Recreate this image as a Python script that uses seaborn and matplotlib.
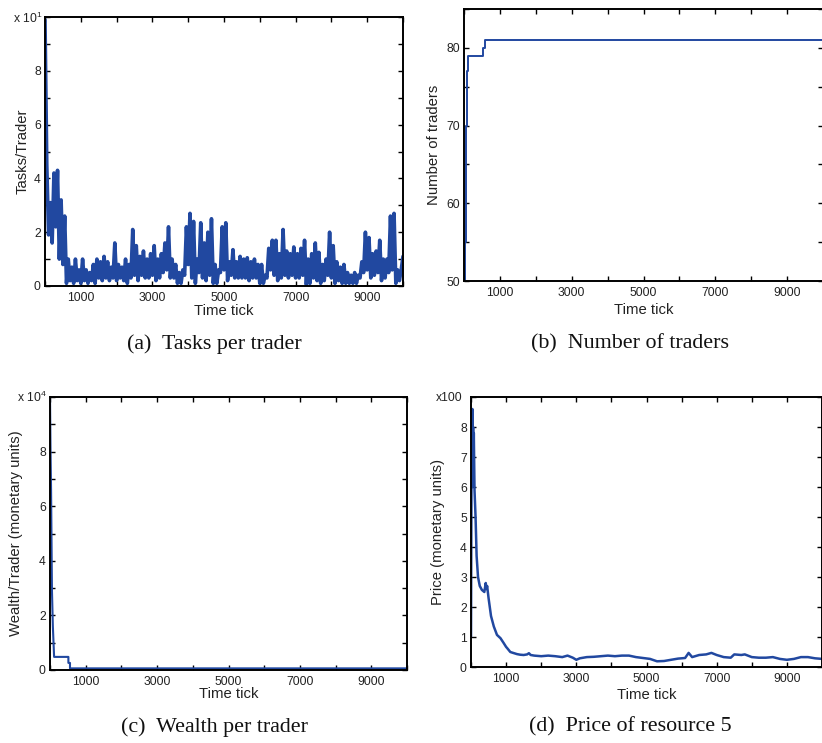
import numpy as np
import pandas as pd
import seaborn as sns
import matplotlib
matplotlib.use("Agg")
import matplotlib.pyplot as plt
from matplotlib.ticker import FixedLocator

# ---------------------------------------------------------------- data
# (a) tasks per trader, sampled every 50 ticks (plotted in units of 10)
tasks_tick = np.arange(0, 10001, 50)
tasks = [
    9.9, 4.5, 1.9, 3.1, 1.6, 4.2, 2.2, 4.3, 1.0, 3.2,
    0.8, 2.6, 0.1, 1.0, 0.2, 0.7, 0.1, 1.0, 0.2, 0.6,
    0.1, 1.0, 0.2, 0.6, 0.1, 0.5, 0.2, 0.8, 0.1, 1.0,
    0.3, 0.9, 0.2, 1.1, 0.3, 0.9, 0.2, 0.7, 0.3, 1.6,
    0.2, 0.8, 0.3, 0.7, 0.2, 1.0, 0.1, 0.8, 0.3, 2.1,
    0.4, 1.5, 0.2, 1.1, 0.4, 1.3, 0.3, 1.0, 0.3, 1.2,
    0.4, 1.5, 0.2, 1.0, 0.3, 1.2, 0.5, 1.6, 0.6, 2.2,
    0.3, 1.0, 0.3, 0.8, 0.1, 0.5, 0.1, 0.6, 0.4, 2.2,
    0.8, 2.7, 0.3, 2.4, 0.1, 1.0, 0.5, 2.35, 0.3, 1.6,
    0.2, 2.0, 0.4, 2.5, 0.1, 0.8, 0.1, 0.6, 0.5, 2.2,
    0.6, 2.35, 0.2, 0.9, 0.4, 1.35, 0.3, 0.9, 0.3, 1.1,
    0.3, 1.0, 0.3, 1.05, 0.2, 0.9, 0.3, 1.0, 0.3, 0.8,
    0.1, 0.8, 0.1, 0.4, 0.3, 1.4, 0.6, 1.7, 0.4, 1.7,
    0.2, 1.2, 0.3, 2.1, 0.4, 1.3, 0.3, 1.2, 0.4, 1.45,
    0.3, 1.2, 0.3, 1.4, 0.4, 1.7, 0.05, 1.0, 0.1, 1.2,
    0.3, 1.6, 0.2, 1.25, 0.1, 0.8, 0.2, 1.0, 0.4, 2.0,
    0.3, 1.5, 0.1, 0.9, 0.2, 0.7, 0.1, 0.8, 0.1, 0.5,
    0.1, 0.4, 0.1, 0.5, 0.1, 0.4, 0.3, 0.9, 0.5, 2.0,
    0.6, 1.8, 0.3, 1.2, 0.4, 1.3, 0.5, 1.7, 0.2, 1.0,
    0.3, 1.0, 0.5, 2.6, 0.6, 2.7, 0.1, 0.6, 0.2, 0.6,
    1.1,
]

# (b) number of traders: tick at which each count is reached
traders_tick = [0, 40, 50, 55, 60, 70, 80, 90, 100, 120, 530, 580, 10000]
traders = [50, 55, 62, 67, 70, 73, 75, 77, 78, 79, 80, 81, 81]

# (c) wealth per trader (units of 10^4)
wealth_tick = [0, 15, 30, 55, 80, 115, 515, 515, 560, 560, 10000]
wealth = [10.0, 8.0, 6.6, 2.9, 1.6, 0.48, 0.48, 0.26, 0.26, 0.06, 0.06]

# (d) price of resource 5 (units of 100)
price_tick = [0, 10, 20, 30, 40, 50, 60, 70, 80, 100,
              130, 160, 200, 250, 310, 380, 420, 440, 460, 500,
              570, 650, 740, 840, 930, 1000, 1030, 1120, 1200, 1310,
              1400, 1500, 1600, 1650, 1700, 1800, 2000, 2200, 2400, 2600,
              2750, 2900, 3000, 3100, 3300, 3500, 3700, 3900, 4100, 4300,
              4500, 4700, 4900, 5100, 5300, 5500, 5700, 5900, 6100, 6200,
              6300, 6500, 6700, 6850, 7000, 7200, 7400, 7500, 7700, 7800,
              8000, 8200, 8400, 8600, 8800, 9000, 9200, 9400, 9600, 9800,
              10000]
price = [1.0, 5.0, 8.1, 6.0, 8.6, 6.2, 8.0, 6.5, 7.8, 5.9,
         5.0, 3.7, 3.0, 2.7, 2.57, 2.5, 2.8, 2.6, 2.7, 2.3,
         1.7, 1.35, 1.07, 0.96, 0.8, 0.67, 0.63, 0.5, 0.47, 0.43,
         0.41, 0.4, 0.42, 0.46, 0.4, 0.38, 0.36, 0.38, 0.36, 0.33,
         0.38, 0.31, 0.24, 0.29, 0.33, 0.34, 0.36, 0.38, 0.36, 0.38,
         0.38, 0.33, 0.30, 0.27, 0.19, 0.20, 0.24, 0.28, 0.30, 0.47,
         0.33, 0.40, 0.42, 0.47, 0.40, 0.33, 0.31, 0.42, 0.40, 0.42,
         0.33, 0.31, 0.31, 0.33, 0.27, 0.24, 0.27, 0.33, 0.33, 0.29,
         0.27]

x_major = [0, 1000, 2000, 3000, 4000, 5000, 6000, 7000, 8000, 9000, 10000]
x_labels = ["", "1000", "", "3000", "", "5000", "", "7000", "", "9000", ""]

captions = ["(a)  Tasks per trader", "(b)  Number of traders",
            "(c)  Wealth per trader", "(d)  Price of resource 5"]

# ---------------------------------------------------------------- style
sns.set_theme(style="ticks")
plt.rcParams["font.family"] = ["Liberation Sans", "DejaVu Sans"]
plt.rcParams["mathtext.fontset"] = "custom"
plt.rcParams["mathtext.rm"] = "Liberation Sans"
plt.rcParams["mathtext.it"] = "Liberation Sans:italic"

LINE = "#2148a0"
TXT = "#222222"
W, H = 822, 743
TICK_FS = 8.7
LABEL_FS = 10.7

fig = plt.figure(figsize=(W / 100, H / 100), dpi=100)


def box(l, r, t, b):
    return [l / W, 1 - b / H, (r - l) / W, (b - t) / H]


ax_a = fig.add_axes(box(45, 403, 17, 286))
ax_b = fig.add_axes(box(464, 823, 9, 281))
ax_c = fig.add_axes(box(50, 407, 397, 670))
ax_d = fig.add_axes(box(471, 822, 397, 667))


def style(ax, ylim, ymajor, ylabels, yminor, ylab, ylab_x, xlab_y):
    ax.set_xlim(0, 10000)
    ax.set_ylim(*ylim)
    ax.xaxis.set_major_locator(FixedLocator(x_major))
    ax.set_xticklabels(x_labels)
    ax.yaxis.set_major_locator(FixedLocator(ymajor))
    ax.set_yticklabels(ylabels)
    ax.yaxis.set_minor_locator(FixedLocator(yminor))
    ax.tick_params(which="both", direction="in", top=True, right=True,
                   colors="black", labelcolor=TXT, labelsize=TICK_FS,
                   width=1.0)
    ax.tick_params(which="major", length=3.5)
    ax.tick_params(axis="x", pad=4)
    ax.tick_params(axis="y", pad=3)
    ax.tick_params(which="minor", length=3.5)
    for s in ax.spines.values():
        s.set_visible(True)
        s.set_linewidth(1.4)
        s.set_color("black")
    ax.set_xlabel("Time tick", fontsize=LABEL_FS, color=TXT)
    ax.set_ylabel(ylab, fontsize=LABEL_FS, color=TXT)
    ax.yaxis.set_label_coords(ylab_x, 0.5)
    ax.xaxis.set_label_coords(0.5, xlab_y)


# (a)
sns.lineplot(x=tasks_tick, y=tasks, ax=ax_a, color=LINE, lw=2.6,
             estimator=None, sort=False)
style(ax_a, (0, 10), [0, 2, 4, 6, 8], ["0", "2", "4", "6", "8"],
      [1, 3, 5, 7, 9, 10], "Tasks/Trader", -0.044, -0.068)
ax_a.text(-0.006, 0.995, r"x 10$^{1}$", transform=ax_a.transAxes,
          ha="right", va="center", fontsize=TICK_FS, color=TXT)

# (b)
sns.lineplot(x=traders_tick, y=traders, ax=ax_b, color=LINE, lw=1.4,
             estimator=None, sort=False, drawstyle="steps-post")
style(ax_b, (50, 85), [50, 60, 70, 80], ["50", "60", "70", "80"],
      [55, 65, 75, 85], "Number of traders", -0.065, -0.082)

# (c)
sns.lineplot(x=wealth_tick, y=wealth, ax=ax_c, color=LINE, lw=1.5,
             estimator=None, sort=False)
style(ax_c, (0, 10), [0, 2, 4, 6, 8], ["0", "2", "4", "6", "8"],
      [1, 3, 5, 7, 9, 10], "Wealth/Trader (monetary units)", -0.076, -0.062)
ax_c.text(-0.009, 1.0, r"x 10$^{4}$", transform=ax_c.transAxes,
          ha="right", va="center", fontsize=TICK_FS, color=TXT)

# (d)
sns.lineplot(x=price_tick, y=price, ax=ax_d, color=LINE, lw=1.8,
             estimator=None, sort=False)
style(ax_d, (0, 9), list(range(9)), [str(v) for v in range(9)], [9],
      "Price (monetary units)", -0.073, -0.076)
ax_d.text(-0.023, 0.995, "x100", transform=ax_d.transAxes,
          ha="right", va="center", fontsize=TICK_FS, color=TXT)

# sub-figure captions
for (cx, cy), cap in zip([(214, 344), (630, 344), (214, 727), (630, 727)],
                         captions):
    fig.text(cx / W, 1 - cy / H, cap, ha="center", va="center",
             fontsize=15.8, family="Liberation Serif", color="#111111")

fig.savefig("out.png", dpi=100)
